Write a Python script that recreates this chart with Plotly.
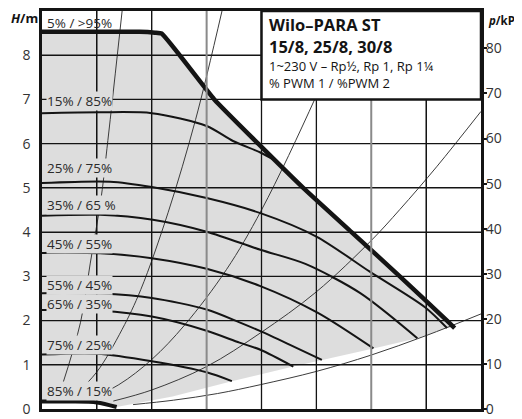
import plotly.graph_objects as go

# ---------------- data ----------------
# x: flow Q (m3/h), y: head H (m)
q_grid = [0.5, 1.0, 1.5, 2.0, 2.5, 3.0, 3.5]
q_grid_grey = [1.5, 3.0]
h_ticks = [0, 1, 2, 3, 4, 5, 6, 7, 8]
p_ticks = [0, 10, 20, 30, 40, 50, 60, 70, 80]
Q_RANGE = [0, 4]
H_RANGE = [0, 9]

# max curve (5% / >95%)
q_max = [0, 0.89, 1.03, 1.09, 1.57, 1.97, 2.38, 2.82, 3.26, 3.69, 3.76]
h_max = [8.53, 8.53, 8.51, 8.49, 7.00, 6.00, 5.00, 4.00, 3.00, 2.00, 1.83]

# speed curves
q_15 = [0, 0.53, 1.00, 1.50, 1.74, 1.99, 2.14]
h_15 = [6.69, 6.71, 6.69, 6.40, 6.06, 5.80, 5.60]
q_25 = [0, 0.62, 1.00, 1.50, 1.99, 2.50, 2.99, 3.49, 3.69]
h_25 = [5.11, 5.14, 5.02, 4.77, 4.43, 3.90, 3.10, 2.30, 1.83]
q_35 = [0, 0.53, 1.01, 1.50, 1.99, 2.40, 2.90, 3.42]
h_35 = [4.37, 4.39, 4.28, 4.01, 3.60, 3.28, 2.62, 1.60]
q_45 = [0, 0.53, 1.00, 1.50, 1.99, 2.51, 3.02]
h_45 = [3.53, 3.52, 3.41, 3.17, 2.78, 2.18, 1.37]
q_55 = [0, 0.53, 1.00, 1.50, 1.80, 1.99, 2.26, 2.55]
h_55 = [2.62, 2.61, 2.51, 2.25, 1.96, 1.76, 1.45, 1.11]
q_65 = [0, 0.53, 1.00, 1.50, 1.80, 1.99, 2.29]
h_65 = [2.24, 2.22, 2.09, 1.77, 1.50, 1.34, 0.96]
q_75 = [0, 0.50, 1.00, 1.50, 1.73]
h_75 = [1.23, 1.25, 1.08, 0.83, 0.63]
q_85 = [0, 0.25, 0.50, 0.68]
h_85 = [0.17, 0.168, 0.149, 0.045]

# lower limit of the operating field
q_low = [0.68, 1.19, 1.73, 2.29, 2.55, 3.02, 3.42, 3.69, 3.76]
h_low = [0.045, 0.285, 0.63, 0.96, 1.11, 1.37, 1.60, 1.83, 1.83]

# system curves
q_sys1 = [0.18, 0.35, 0.44, 0.54, 0.60, 0.73]
h_sys1 = [0.50, 1.95, 3.30, 4.80, 6.07, 9.00]
q_sys2 = [0.28, 0.50, 0.73, 0.90, 1.15, 1.40, 1.64]
h_sys2 = [0.27, 0.84, 1.80, 2.70, 4.45, 6.55, 9.00]
q_sys3 = [0.40, 0.70, 1.00, 1.30, 1.68, 2.00, 2.49, 2.83]
h_sys3 = [0.19, 0.55, 1.12, 1.90, 3.15, 4.50, 7.03, 9.00]
q_sys4 = [0.65, 1.00, 1.50, 1.99, 2.50, 3.00, 3.26, 3.60, 4.00]
h_sys4 = [0.18, 0.43, 0.96, 1.72, 2.65, 3.81, 4.51, 5.49, 6.73]
q_sys5 = [0.83, 1.20, 1.60, 1.99, 2.50, 3.00, 3.50, 4.00]
h_sys5 = [0.10, 0.20, 0.35, 0.55, 0.85, 1.22, 1.66, 2.15]

# curve labels
label_text = ["5% / >95%", "15% / 85%", "25% / 75%", "35% / 65 %", "45% / 55%",
              "55% / 45%", "65% / 35%", "75% / 25%", "85% / 15%"]
label_h = [8.73, 6.97, 5.45, 4.61, 3.74, 2.80, 2.37, 1.45, 0.40]

box_lines = ["<b>Wilo–PARA ST</b>", "<b>15/8, 25/8, 30/8</b>",
             "1~230 V – Rp½, Rp 1, Rp 1¼", "% PWM 1 / %PWM 2"]
box_line_h = [8.70, 8.20, 7.76, 7.38]

# ---------------- figure ----------------
FONT = "Open Sans"
FIELD_FILL = "rgba(0,0,0,0.135)"   # translucent: looks #ddd on white, grid shows through
LABEL_BG = "#dddddd"
INK = "#141414"
GRID_GREY = "#8a8a8a"

fig = go.Figure()


def add_line(xs, ys, color, width, shape="linear", smoothing=1.0, fill=None, fillcolor=None):
    fig.add_trace(go.Scatter(x=xs, y=ys, mode="lines",
                             line=dict(color=color, width=width, shape=shape, smoothing=smoothing),
                             fill=fill, fillcolor=fillcolor,
                             hoverinfo="skip", showlegend=False))


# operating field fill
fx = q_max + q_low[::-1] + q_85[::-1]
fy = h_max + h_low[::-1] + h_85[::-1]
add_line(fx, fy, "rgba(0,0,0,0)", 0, fill="toself", fillcolor=FIELD_FILL)

# system curves
for qs, hs in [(q_sys1, h_sys1), (q_sys2, h_sys2), (q_sys3, h_sys3), (q_sys4, h_sys4), (q_sys5, h_sys5)]:
    add_line(qs, hs, "#3c3c3c", 1, shape="spline")

# speed curves
for qs, hs in [(q_15, h_15), (q_25, h_25), (q_35, h_35), (q_45, h_45), (q_55, h_55), (q_65, h_65), (q_75, h_75)]:
    add_line(qs, hs, INK, 2, shape="spline", smoothing=0.8)
add_line(q_85, h_85, INK, 4, shape="spline", smoothing=0.8)
add_line(q_max, h_max, INK, 4.5, shape="spline", smoothing=0.4)

# invisible trace for the right axis
fig.add_trace(go.Scatter(x=[0], y=[0], yaxis="y2", mode="markers", marker=dict(opacity=0),
                         hoverinfo="skip", showlegend=False))

# grid lines as shapes drawn above the traces (built from the tick lists), then the title box
shapes = []
for h in h_ticks[1:]:
    shapes.append(dict(type="line", xref="x", yref="y", x0=Q_RANGE[0], x1=Q_RANGE[1], y0=h, y1=h,
                       line=dict(color=INK, width=1.3), layer="above"))
for q in q_grid:
    grey = q in q_grid_grey
    shapes.append(dict(type="line", xref="x", yref="y", x0=q, x1=q, y0=H_RANGE[0], y1=H_RANGE[1],
                       line=dict(color=GRID_GREY if grey else INK, width=2 if grey else 1.3),
                       layer="above"))
shapes.append(dict(type="rect", xref="x", yref="y", x0=2.0, x1=4.0, y0=7.0, y1=9.0,
                   fillcolor="white", line=dict(color=INK, width=2.5), layer="above"))

annotations = []
for i, (t, h) in enumerate(zip(label_text, label_h)):
    annotations.append(dict(x=0.035, y=h, xref="x", yref="y", text=t, showarrow=False,
                            xanchor="left", yanchor="middle", borderpad=0,
                            bgcolor=LABEL_BG if i > 0 else "rgba(0,0,0,0)",
                            font=dict(family=FONT, size=13.5, color="#2a2a2a")))
for t, h in zip(box_lines, box_line_h):
    bold = t.startswith("<b>")
    annotations.append(dict(x=2.05, y=h, xref="x", yref="y", text=t, showarrow=False,
                            xanchor="left", yanchor="middle",
                            font=dict(family=FONT, size=16.5 if bold else 13, color=INK)))
annotations.append(dict(x=-0.04, y=0.982, xref="paper", yref="paper", text="<b><i>H</i>/m</b>",
                        showarrow=False, xanchor="center", yanchor="middle",
                        font=dict(family=FONT, size=13, color=INK)))
annotations.append(dict(x=1.011, y=0.977, xref="paper", yref="paper", text="<b><i>p</i>/kPa</b>",
                        showarrow=False, xanchor="left", yanchor="middle",
                        font=dict(family=FONT, size=11.5, color=INK)))
annotations.append(dict(x=0.91, y=-0.015, xref="paper", yref="paper", text="<b><i>Q</i>/m³/h</b>",
                        showarrow=False, xanchor="left", yanchor="top",
                        font=dict(family=FONT, size=13, color=INK)))

q_grid_black = [q for q in q_grid if q not in q_grid_grey]

# the page body keeps its default 8 px margin, so the margins are offset by it
fig.update_layout(
    width=522, height=419,
    margin=dict(l=34, r=49, t=3, b=18, autoexpand=False),
    paper_bgcolor="white", plot_bgcolor="white",
    showlegend=False, hovermode=False,
    shapes=shapes, annotations=annotations,
    xaxis=dict(range=Q_RANGE, showgrid=True, gridcolor=INK, gridwidth=1.3, tickvals=q_grid_black,
               zeroline=False, showticklabels=False, ticks="",
               automargin=False, fixedrange=True,
               showline=True, linecolor=INK, linewidth=3, mirror=True),
    yaxis=dict(range=H_RANGE, showgrid=True, gridcolor=INK, gridwidth=1.3, zeroline=False,
               tickvals=h_ticks, ticks="",
               automargin=False, ticklabelstandoff=6, fixedrange=True,
               tickfont=dict(family=FONT, size=14, color="#333333"),
               showline=True, linecolor=INK, linewidth=2.5, mirror=True),
    yaxis2=dict(range=[H_RANGE[0] * 9.81, H_RANGE[1] * 9.81], overlaying="y", side="right",
                showgrid=False, zeroline=False, automargin=False, fixedrange=True,
                tickvals=p_ticks, ticks="outside", ticklen=5, tickwidth=1.5, tickcolor=INK,
                ticklabelstandoff=-4,
                tickfont=dict(family=FONT, size=14, color="#333333"), showline=False),
)

fig.write_html("out.html", config={"displayModeBar": False})
